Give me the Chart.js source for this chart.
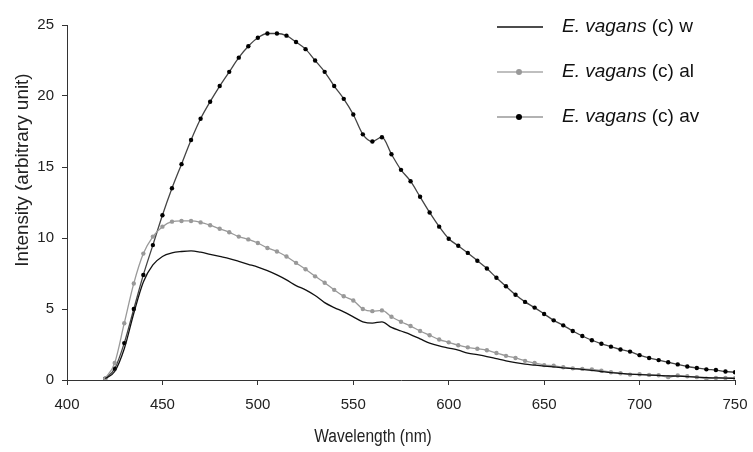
<!DOCTYPE html>
<html>
<head>
<meta charset="utf-8">
<script src="https://cdn.jsdelivr.net/npm/chart.js@4/dist/chart.umd.min.js"></script>
<style>
  html, body { margin: 0; padding: 0; background: #fff; }
  #wrap { width: 753px; height: 452px; position: relative; }
</style>
</head>
<body>
<div id="wrap"><canvas id="spectra"></canvas></div>
<script>
// wavelength (nm)
const wavelengths = [420,425,430,435,440,445,450,455,460,465,470,475,480,485,490,495,500,505,510,515,
  520,525,530,535,540,545,550,555,560,565,570,575,580,585,590,595,600,605,610,615,
  620,625,630,635,640,645,650,655,660,665,670,675,680,685,690,695,700,705,710,715,
  720,725,730,735,740,745,750];

// E. vagans (c) w
const seriesW = [0.1,0.6,2.2,4.7,6.9,8.1,8.7,8.95,9.05,9.1,9.0,8.85,8.7,8.55,8.35,8.15,7.95,7.7,7.4,7.05,
  6.65,6.35,5.95,5.45,5.1,4.8,4.45,4.1,4.0,4.1,3.7,3.45,3.2,2.9,2.6,2.4,2.25,2.1,1.9,1.78,
  1.65,1.5,1.35,1.22,1.12,1.05,0.98,0.92,0.86,0.8,0.75,0.68,0.6,0.52,0.47,0.42,0.38,0.35,0.32,0.29,
  0.27,0.24,0.2,0.17,0.15,0.13,0.12];

// E. vagans (c) al
const seriesAl = [0.1,1.2,4.0,6.8,8.9,10.1,10.8,11.15,11.2,11.2,11.1,10.9,10.65,10.4,10.1,9.9,9.65,9.3,9.05,8.7,
  8.25,7.8,7.3,6.85,6.35,5.9,5.6,5.0,4.85,4.9,4.45,4.1,3.8,3.45,3.15,2.85,2.65,2.45,2.3,2.2,
  2.1,1.9,1.7,1.55,1.35,1.2,1.05,1.0,0.9,0.82,0.78,0.75,0.65,0.55,0.48,0.38,0.4,0.36,0.33,0.2,
  0.32,0.26,0.2,0.1,0.14,0.14,0.13];

// E. vagans (c) av
const seriesAv = [0.1,0.8,2.6,5.0,7.4,9.5,11.6,13.5,15.2,16.9,18.4,19.6,20.7,21.7,22.7,23.5,24.1,24.4,24.4,24.25,
  23.8,23.3,22.5,21.7,20.7,19.8,18.7,17.3,16.8,17.1,15.9,14.8,14.0,12.9,11.8,10.8,9.95,9.45,8.95,8.4,
  7.85,7.2,6.6,6.0,5.5,5.1,4.65,4.2,3.85,3.45,3.1,2.8,2.55,2.35,2.15,2.0,1.75,1.55,1.4,1.25,
  1.1,0.95,0.85,0.75,0.7,0.6,0.55];

const xTicks = [400,450,500,550,600,650,700,750];
const yTicks = [0,5,10,15,20,25];
const xTitle = 'Wavelength (nm)';
const yTitle = 'Intensity (arbitrary unit)';

const FONT = "'Liberation Sans', Arial, sans-serif";

function pts(vals) {
  return vals.map((v, i) => ({ x: wavelengths[i], y: v }));
}

// legend + axis titles drawn by hand (italic species name, off-centre titles)
const textPlugin = {
  id: 'textBits',
  afterDraw(chart) {
    const ctx = chart.ctx;
    const rows = [27, 72, 117];
    chart.data.datasets.forEach((ds, i) => {
      const y = rows[i];
      ctx.save();
      ctx.strokeStyle = ds.legendLine;
      ctx.lineWidth = 1.5;
      ctx.beginPath();
      ctx.moveTo(497, y);
      ctx.lineTo(543, y);
      ctx.stroke();
      if (ds.pointRadius > 0) {
        ctx.fillStyle = ds.pointBackgroundColor;
        ctx.beginPath();
        ctx.arc(519, y, 3, 0, Math.PI * 2);
        ctx.fill();
      }
      ctx.fillStyle = '#111';
      ctx.textBaseline = 'middle';
      ctx.font = 'italic 19px ' + FONT;
      ctx.fillText('E. vagans', 562, y);
      const w = ctx.measureText('E. vagans').width;
      ctx.font = '19px ' + FONT;
      ctx.fillText(ds.suffix, 562 + w, y);
      ctx.restore();
    });

    // x title
    ctx.save();
    ctx.fillStyle = '#222';
    ctx.font = '15.5px ' + FONT;
    ctx.textAlign = 'center';
    ctx.textBaseline = 'middle';
    ctx.translate(373, 437);
    ctx.scale(1, 1.15);
    ctx.fillText(xTitle, 0, 0);
    ctx.restore();

    // y title
    ctx.save();
    ctx.fillStyle = '#222';
    ctx.font = '18px ' + FONT;
    ctx.textAlign = 'center';
    ctx.textBaseline = 'middle';
    ctx.translate(23, 170);
    ctx.rotate(-Math.PI / 2);
    ctx.scale(1.05, 1);
    ctx.fillText(yTitle, 0, 0);
    ctx.restore();
  }
};

new Chart(document.getElementById('spectra'), {
  type: 'line',
  data: {
    datasets: [
      {
        label: 'E. vagans (c) w',
        suffix: ' (c) w',
        data: pts(seriesW),
        borderColor: '#111',
        legendLine: '#111',
        borderWidth: 1.3,
        pointRadius: 0,
        cubicInterpolationMode: 'monotone'
      },
      {
        label: 'E. vagans (c) al',
        suffix: ' (c) al',
        data: pts(seriesAl),
        borderColor: '#999',
        legendLine: '#aaa',
        borderWidth: 1.3,
        pointRadius: 2.2,
        pointBackgroundColor: '#999',
        pointBorderWidth: 0,
        cubicInterpolationMode: 'monotone'
      },
      {
        label: 'E. vagans (c) av',
        suffix: ' (c) av',
        data: pts(seriesAv),
        borderColor: '#444',
        legendLine: '#999',
        borderWidth: 1.3,
        pointRadius: 2.2,
        pointBackgroundColor: '#000',
        pointBorderWidth: 0,
        cubicInterpolationMode: 'monotone'
      }
    ]
  },
  options: {
    responsive: true,
    maintainAspectRatio: false,
    animation: false,
    layout: { padding: { top: 25, right: 18, left: 0, bottom: 0 } },
    plugins: {
      legend: { display: false },
      tooltip: { enabled: false }
    },
    scales: {
      x: {
        type: 'linear',
        min: 400,
        max: 750,
        afterBuildTicks: (s) => { s.ticks = xTicks.map(v => ({ value: v })); },
        afterFit: (s) => { s.height = 72; s.paddingLeft = 0; s.paddingRight = 0; },
        border: { display: true, color: '#333', width: 1 },
        grid: { display: true, drawOnChartArea: false, drawTicks: true, tickLength: 5, color: '#333' },
        ticks: { color: '#222', font: { family: FONT, size: 15 }, padding: 11, maxRotation: 0 },
        title: { display: false }
      },
      y: {
        min: 0,
        max: 25,
        afterBuildTicks: (s) => { s.ticks = yTicks.map(v => ({ value: v })); },
        afterFit: (s) => { s.width = 67; s.paddingTop = 0; s.paddingBottom = 0; },
        border: { display: true, color: '#333', width: 1 },
        grid: { display: true, drawOnChartArea: false, drawTicks: true, tickLength: 5, color: '#333' },
        ticks: { color: '#222', font: { family: FONT, size: 15 }, padding: 8 },
        title: { display: false }
      }
    }
  },
  plugins: [textPlugin]
});
</script>
</body>
</html>
